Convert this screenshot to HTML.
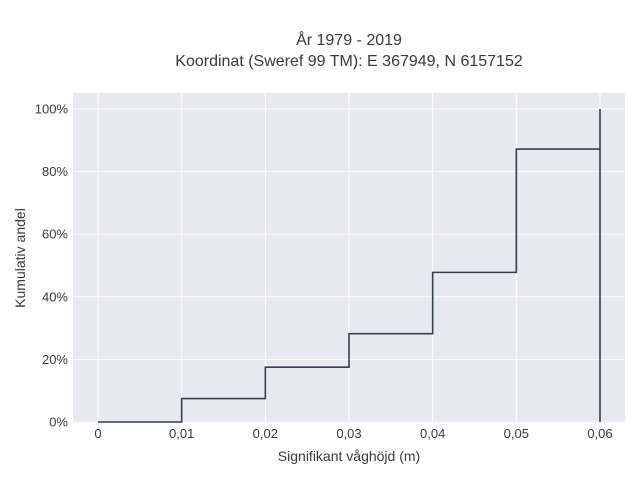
<!DOCTYPE html>
<html><head><meta charset="utf-8"><style>
body{margin:0;background:#fff;font-family:"Liberation Sans",sans-serif;}
svg text{font-family:"Liberation Sans",sans-serif;fill:#3a3a3a;}
</style></head><body>
<svg width="640" height="480" xmlns="http://www.w3.org/2000/svg">
<rect x="0" y="0" width="640" height="480" fill="#fff"/>
<rect x="73" y="93" width="552" height="330" fill="#e8e8f0"/>
<g id="grid"></g>
<path id="line" fill="none" stroke="#35404f" stroke-width="1.6"/>
<g id="labels"></g>
<text x="349" y="45" text-anchor="middle" font-size="16">År 1979 - 2019</text>
<text x="349" y="66" text-anchor="middle" font-size="16">Koordinat (Sweref 99 TM): E 367949, N 6157152</text>
<text x="349" y="461" text-anchor="middle" font-size="14">Signifikant våghöjd (m)</text>
<text x="25" y="258" text-anchor="middle" font-size="14" transform="rotate(-90 25 258)">Kumulativ andel</text>
</svg>
<script>
const xValues=[0,0.01,0.02,0.03,0.04,0.05,0.06];
const yValues=[0,0.075,0.175,0.282,0.478,0.872,1.0];
const xTicks=[0,0.01,0.02,0.03,0.04,0.05,0.06];
const xTickLabels=["0","0,01","0,02","0,03","0,04","0,05","0,06"];
const yTicks=[0,0.2,0.4,0.6,0.8,1.0];
const yTickLabels=["0%","20%","40%","60%","80%","100%"];
const NS="http://www.w3.org/2000/svg";
const sx=v=>98+v/0.06*502;
const sy=v=>422-v*313;
const grid=document.getElementById('grid'),labels=document.getElementById('labels');
function mk(tag,attrs,parent){const e=document.createElementNS(NS,tag);for(const k in attrs)e.setAttribute(k,attrs[k]);parent.appendChild(e);return e;}
xTicks.forEach((t,i)=>{
  const l=mk('line',{x1:sx(t),x2:sx(t),y1:93,y2:423,stroke:'#fff','stroke-width':1},grid);
  
  
  const tx=mk('text',{x:sx(t),y:438,'text-anchor':'middle','font-size':13},labels);
  tx.textContent=xTickLabels[i];
  
  
});
yTicks.forEach((t,i)=>{
  const l=mk('line',{x1:73,x2:625,y1:sy(t),y2:sy(t),stroke:'#fff','stroke-width':1},grid);
  
  
  const tx=mk('text',{x:68,y:sy(t)+4.5,'text-anchor':'end','font-size':13},labels);
  tx.textContent=yTickLabels[i];
  
  
});
let d='M'+sx(xValues[0])+','+sy(yValues[0]);
for(let i=1;i<xValues.length;i++){d+=' H'+sx(xValues[i])+' V'+sy(yValues[i]);}
d+=' M'+sx(xValues[xValues.length-1])+','+sy(yValues[yValues.length-1])+' V'+sy(0);
document.getElementById('line').setAttribute('d',d);
</script>
</body></html>
